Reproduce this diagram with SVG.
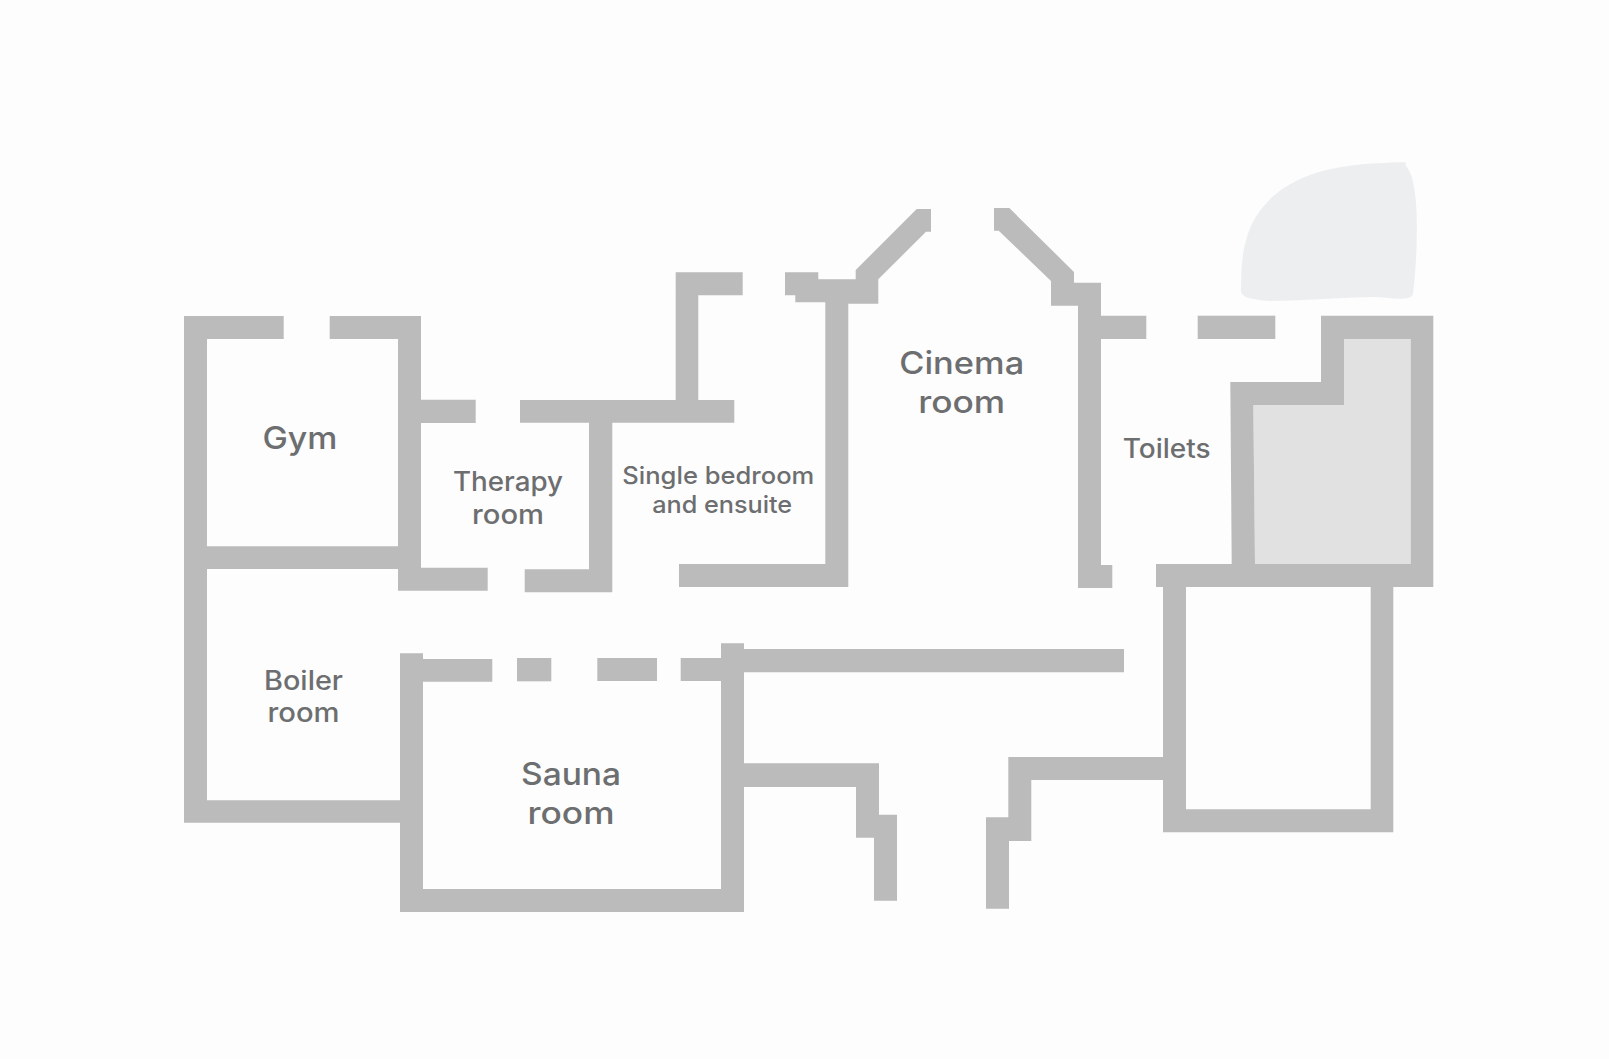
<svg xmlns="http://www.w3.org/2000/svg" width="1609" height="1059" viewBox="0 0 1609 1059">
<style>
.w{fill:#bbbbbb}
.l{fill:#6d6e70;font-family:Inter,"Liberation Sans",sans-serif;font-weight:500;text-anchor:middle}
.a{font-size:31px}.b{font-size:26.5px}.c{font-size:24px}
</style>
<rect width="1609" height="1059" fill="#fdfdfd"/>
<g id="grounds"><path fill="#edeef0" d="M1405.7 162.3V165.7C1408 168 1410 172 1411.7 176.7C1414 185 1415.5 195 1416 203.3C1417 215 1417 228 1416.7 240C1416.5 258 1415 275 1413.3 291.7C1413 295 1412 296.5 1410 297.3C1407 298.5 1404 298.8 1400 298.7C1391 298.7 1382 297 1373 297C1340 297.5 1306 300.5 1273 301C1264 301 1257 300 1250 298.3C1244 296.8 1241 294.5 1241 290C1241 279 1241.5 267 1242.7 256.7C1244 246 1246.5 237 1250 228.3C1253.5 220 1258 213 1263.3 206.7C1269 199.5 1276 193.5 1283.3 188.3C1291.5 183 1300.5 178.5 1310 175C1320.5 171 1332 168.5 1343.3 166.7C1354 165 1365.5 164 1376.7 163.3C1386 162.8 1396 162.3 1405.7 162.3Z"/></g>
<g id="walls">
<path class="w" d="M184 316H283.7V339H207V546.3H398V339H329.7V316H421V399.7H475.7V423H421V567.7H487.7V590.7H398V569H207V800.3H400V653.3H423V659H492.3V681.7H423V889H721V681H680.7V658H721V643.3H744V649H1124V672.3H744V763.3H879V814.7H897V900.7H874V837.7H856V787H744V912H400V822.7H184Z"/>
<path class="w" d="M520 400H675.7V272.3H742.7V295.3H698.3V400H734.3V422.7H612.3V592.3H524.7V569.3H589V422.7H520Z"/>
<rect class="w" x="517" y="658" width="34.3" height="23.3"/>
<rect class="w" x="597.3" y="658" width="59.7" height="23"/>
<path class="w" d="M785 272.3H818.3V279.3H855.7V270L916.7 209H931V231.7H926L878.3 279.3V303.7H848.3V587H679V564H825.3V302.3H795.3V295.3H785Z"/>
<path class="w" d="M994 208H1009.3L1074 272V282.7H1101V315.7H1146.3V339H1101V565H1112.3V588H1078V305.7H1051V281L998.7 230.7H994Z"/>
<rect class="w" x="1197.7" y="315.7" width="77.6" height="23.3"/>
<path fill="#e1e1e1" d="M1344 339H1410.7V564H1255L1253.3 405H1344Z"/>
<path class="w" fill-rule="evenodd" d="M1321 315.7H1433.3V587H1393.3V832.3H1163V780H1031.3V841H1009V908.7H986V817.3H1008.3V757H1163V587H1156V564H1231.7L1230.3 382H1321ZM1344 339V405H1253.3L1255 564H1410.7V339ZM1186 587V809.3H1370.7V587Z"/>
</g>
<g id="gym"><text class="l a" x="300" y="449" textLength="75" lengthAdjust="spacingAndGlyphs">Gym</text></g>
<g id="therapy-room"><text class="l b" x="508" y="491" textLength="110" lengthAdjust="spacingAndGlyphs">Therapy</text><text class="l b" x="508" y="524" textLength="72" lengthAdjust="spacingAndGlyphs">room</text></g>
<g id="single-bedroom"><text class="l c" x="718.3" y="483.5" textLength="192" lengthAdjust="spacingAndGlyphs">Single bedroom</text><text class="l c" x="722.2" y="512.5" textLength="140" lengthAdjust="spacingAndGlyphs">and ensuite</text></g>
<g id="cinema-room"><text class="l a" x="961.7" y="374" textLength="125" lengthAdjust="spacingAndGlyphs">Cinema</text><text class="l a" x="961.7" y="412.7" textLength="87" lengthAdjust="spacingAndGlyphs">room</text></g>
<g id="boiler-room"><text class="l b" x="303.5" y="690" textLength="79" lengthAdjust="spacingAndGlyphs">Boiler</text><text class="l b" x="303.5" y="722" textLength="72" lengthAdjust="spacingAndGlyphs">room</text></g>
<g id="sauna-room"><text class="l a" x="571" y="785.3" textLength="100" lengthAdjust="spacingAndGlyphs">Sauna</text><text class="l a" x="571" y="824" textLength="87" lengthAdjust="spacingAndGlyphs">room</text></g>
<g id="toilets"><text class="l b" x="1166.7" y="457.7" textLength="88" lengthAdjust="spacingAndGlyphs">Toilets</text></g>
</svg>
